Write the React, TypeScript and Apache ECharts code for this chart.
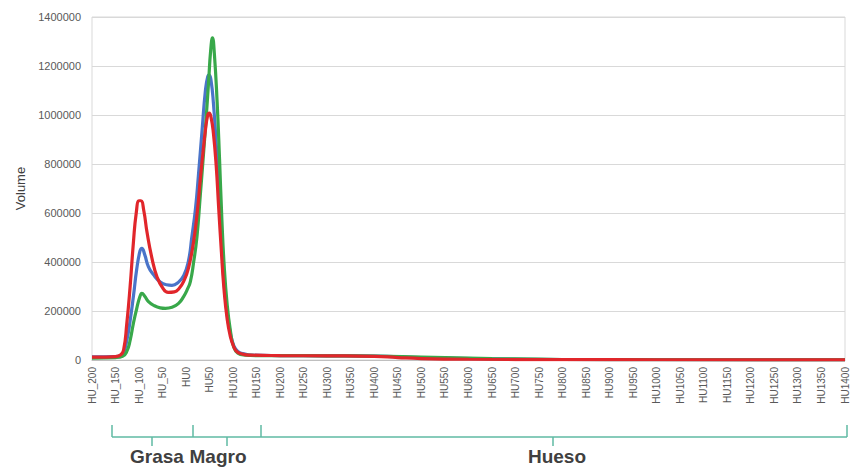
import React, { useEffect, useRef } from "react";
import * as echarts from "echarts";

const tickLabels = [
  "HU_200", "HU_150", "HU_100", "HU_50", "HU0", "HU50", "HU100", "HU150", "HU200",
  "HU250", "HU300", "HU350", "HU400", "HU450", "HU500", "HU550", "HU600", "HU650",
  "HU700", "HU750", "HU800", "HU850", "HU900", "HU950", "HU1000", "HU1050", "HU1100",
  "HU1150", "HU1200", "HU1250", "HU1300", "HU1350", "HU1400",
];

const blueHU = [-200, -150, -140, -133, -126, -119, -112, -105, -98, -94, -88, -80, -70, -55, -42, -30, -18, -5, 5, 12, 20, 26, 34, 41, 46, 49, 53, 58, 64, 69, 75, 80, 87, 94, 101, 110, 125, 140, 200, 300, 400, 500, 650, 800, 1000, 1400];
const blueVol = [13000, 14000, 18000, 30000, 80000, 160000, 260000, 370000, 445000, 456000, 430000, 380000, 350000, 318000, 307000, 305000, 315000, 345000, 405000, 500000, 620000, 750000, 940000, 1100000, 1158000, 1163000, 1140000, 1048000, 880000, 707000, 500000, 330000, 190000, 110000, 60000, 35000, 24000, 20000, 18000, 17000, 16000, 10000, 5000, 2000, 1000, 500];

const greenHU = [-200, -150, -135, -126, -119, -112, -105, -98, -94, -88, -80, -68, -55, -44, -30, -16, -5, 3, 9, 16, 23, 30, 37, 43, 48, 52, 56, 60, 66, 71, 76, 81, 87, 94, 101, 110, 125, 150, 200, 300, 400, 500, 650, 800, 1000, 1400];
const greenVol = [8000, 10000, 15000, 35000, 80000, 150000, 210000, 260000, 272000, 260000, 238000, 222000, 213000, 211000, 215000, 231000, 260000, 290000, 320000, 400000, 503000, 670000, 843000, 1000000, 1143000, 1260000, 1315000, 1250000, 1048000, 820000, 571000, 380000, 231000, 120000, 54000, 28000, 20000, 18000, 18000, 17000, 16000, 12000, 6000, 2000, 1000, 500];

const redHU = [-200, -170, -150, -140, -133, -126, -119, -112, -106, -100, -96, -90, -83, -72, -62, -50, -38, -25, -15, -5, 5, 16, 24, 30, 36, 41, 46, 49, 53, 58, 64, 69, 75, 80, 87, 94, 101, 108, 120, 137, 200, 300, 400, 450, 500, 600, 800, 1000, 1400];
const redVol = [12000, 12000, 14000, 20000, 40000, 150000, 300000, 480000, 600000, 650000, 650000, 610000, 520000, 410000, 340000, 295000, 276000, 278000, 292000, 322000, 375000, 485000, 610000, 735000, 850000, 939000, 1000000, 1008000, 990000, 925000, 790000, 626000, 440000, 300000, 170000, 95000, 55000, 34000, 24000, 20000, 18000, 17000, 15000, 10000, 6000, 3000, 1500, 1000, 500];

const zip = (xs: number[], ys: number[]) => xs.map((x, i) => [x, ys[i]]);

const TEAL = "#5fbaa3";
const FONT = "'Liberation Sans', Arial, sans-serif";

export default function App() {
  const ref = useRef<HTMLDivElement>(null);
  useEffect(() => {
    if (!ref.current) return;
    const chart = echarts.init(ref.current, undefined, { renderer: "svg" });
    const lineSeries = (name: string, color: string, data: number[][]) => ({
      name,
      type: "line",
      data,
      showSymbol: false,
      smooth: 0.5,
      lineStyle: { color, width: 3.2 },
      itemStyle: { color },
    });
    const vline = (x: number, y1: number, y2: number) => ({
      type: "line",
      shape: { x1: x, y1, x2: x, y2 },
      style: { stroke: TEAL, lineWidth: 1.5 },
    });
    const label = (text: string, x: number) => ({
      type: "text",
      x,
      y: 456,
      style: {
        text,
        fill: "#404040",
        font: `bold 19px ${FONT}`,
        align: "center",
        verticalAlign: "middle",
      },
    });
    chart.setOption({
      animation: false,
      backgroundColor: "#ffffff",
      grid: { left: 92, right: 11, top: 17, bottom: 112, show: true, borderColor: "#d9d9d9", borderWidth: 1 },
      xAxis: {
        type: "value",
        min: -200,
        max: 1400,
        interval: 50,
        axisLine: { show: true, lineStyle: { color: "#bfbfbf" } },
        axisTick: { show: false },
        splitLine: { show: false },
        axisLabel: {
          rotate: 90,
          margin: 7,
          fontSize: 10,
          color: "#595959",
          fontFamily: FONT,
          formatter: (v: number) => tickLabels[Math.round((v + 200) / 50)] ?? "",
        },
      },
      yAxis: {
        type: "value",
        min: 0,
        max: 1400000,
        interval: 200000,
        name: "Volume",
        nameLocation: "middle",
        nameGap: 60,
        nameTextStyle: { fontSize: 13, color: "#404040", fontFamily: FONT },
        axisLine: { show: false },
        axisTick: { show: false },
        splitLine: { lineStyle: { color: "#d9d9d9" } },
        axisLabel: {
          margin: 11,
          fontSize: 11,
          color: "#595959",
          fontFamily: FONT,
          formatter: (v: number) => String(v),
        },
      },
      series: [
        lineSeries("Azul", "#4a74c9", zip(blueHU, blueVol)),
        lineSeries("Verde", "#38a84a", zip(greenHU, greenVol)),
        lineSeries("Rojo", "#e1262b", zip(redHU, redVol)),
      ],
      graphic: [
        {
          type: "line",
          shape: { x1: 112, y1: 437, x2: 847, y2: 437 },
          style: { stroke: TEAL, lineWidth: 1.5 },
        },
        vline(112, 425, 437),
        vline(193, 425, 437),
        vline(261, 425, 437),
        vline(847, 425, 437),
        vline(152, 437, 446),
        vline(227, 437, 446),
        vline(553, 437, 446),
        label("Grasa", 157),
        label("Magro", 218),
        label("Hueso", 557),
      ],
    });
    return () => chart.dispose();
  }, []);
  return <div ref={ref} style={{ width: 856, height: 472, position: "absolute", left: 0, top: 0 }} />;
}
